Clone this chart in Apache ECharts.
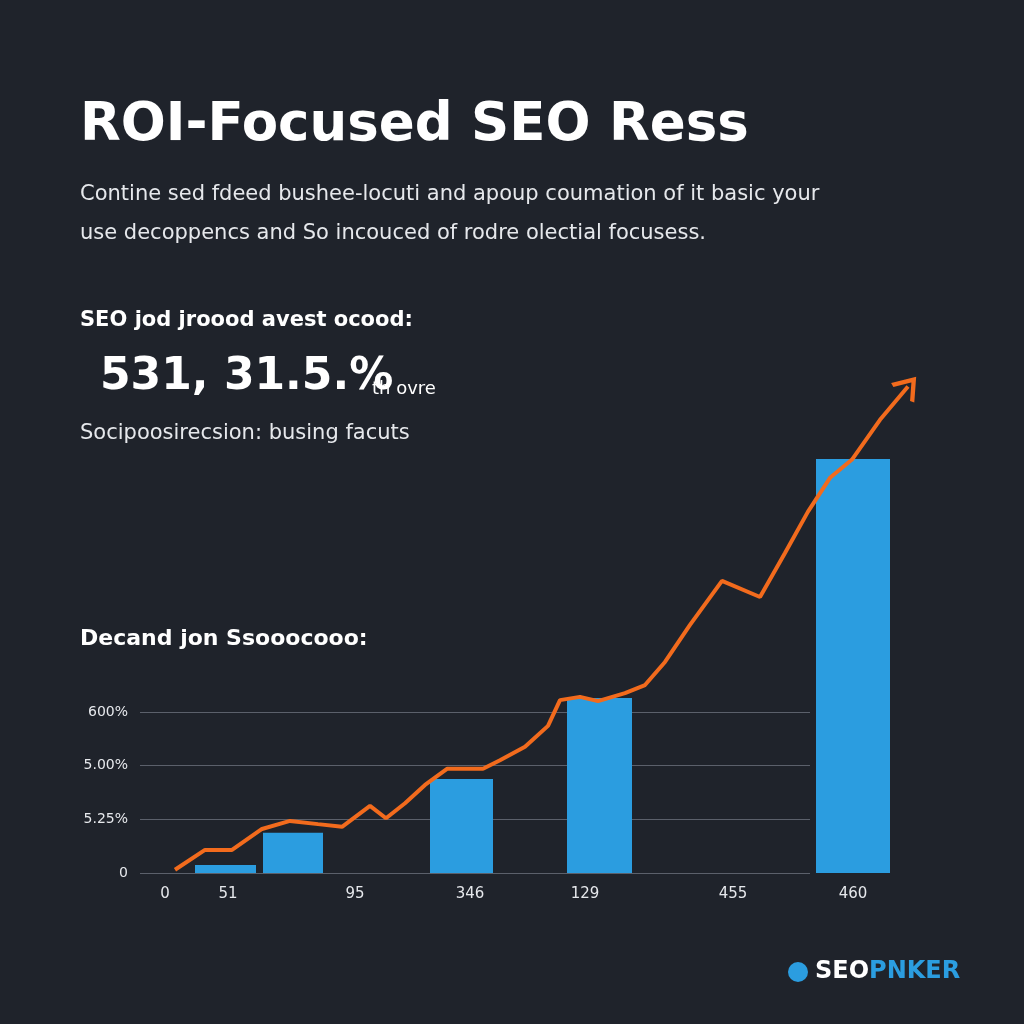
<!DOCTYPE html>
<html><head><meta charset="utf-8">
<script src="https://cdn.jsdelivr.net/npm/echarts@6/dist/echarts.min.js"></script>
<style>html,body{margin:0;background:#1f232b}#c{width:1024px;height:1024px}</style>
</head><body><div id="c"></div>
<script>
const yTickLabels = ['0', '5.25%', '5.00%', '600%'];
const xTickPos = [25, 88, 215, 330, 445, 593, 713];
const xTickLabels = ['0', '51', '95', '346', '129', '455', '460'];
// bars: [xStart, xEnd, height]
const bars = [[55, 116, 0.15], [123, 183, 0.75], [290, 353, 1.75], [427, 492, 3.26], [676, 750, 7.71]];
const linePts = [[35, 0.06], [65, 0.43], [92, 0.43], [122, 0.82], [150, 0.97], [178, 0.91], [202, 0.86],
  [230, 1.25], [246, 1.02], [265, 1.30], [285, 1.64], [307, 1.94], [343, 1.94], [360, 2.10], [385, 2.35],
  [408, 2.74], [420, 3.22], [440, 3.28], [458, 3.20], [485, 3.35], [505, 3.50], [525, 3.93], [550, 4.62],
  [582, 5.44], [620, 5.14], [645, 5.96], [668, 6.73], [690, 7.36], [712, 7.70], [740, 8.44], [768, 9.06]];

const chart = echarts.init(document.getElementById('c'));
const F = '"DejaVu Sans", Inter, sans-serif';
const txt = (x, y, text, size, weight, color) => ({ type: 'text', left: x, top: y,
  style: { text, fontSize: size, fontWeight: weight, fill: color || '#ffffff', fontFamily: F } });

const lineData = linePts.map((p, i) => i === linePts.length - 1
  ? { value: p, symbol: 'path://M0,10 L5,0 L10,10', symbolSize: [26, 18], symbolRotate: -40,
      itemStyle: { color: 'none', borderColor: '#f26b1d', borderWidth: 4 } }
  : { value: p, symbol: 'none' });

chart.setOption({
  backgroundColor: '#1f232b',
  graphic: [
    txt(80, 100, 'ROI-Focused SEO Ress', 53, 'bold'),
    txt(80, 184, 'Contine sed fdeed bushee-locuti and apoup coumation of it basic your', 21, 'normal', '#e6e8ec'),
    txt(80, 223, 'use decoppencs and So incouced of rodre olectial focusess.', 21, 'normal', '#e6e8ec'),
    txt(80, 310, 'SEO jod jroood avest ocood:', 21, 'bold'),
    txt(100, 356, '531, 31.5.%', 44, 'bold'),
    txt(372, 380, 'th ovre', 18, 'normal'),
    txt(80, 423, 'Socipoosirecsion: busing facuts', 21, 'normal', '#e6e8ec'),
    txt(80, 628, 'Decand jon Ssooocooo:', 22, 'bold'),
    { type: 'circle', shape: { cx: 798, cy: 972, r: 10 }, style: { fill: '#2b9de0' } },
    { type: 'text', left: 815, top: 960, style: { rich: {
        a: { fill: '#ffffff', fontSize: 24, fontWeight: 'bold', fontFamily: F },
        b: { fill: '#2b9de0', fontSize: 24, fontWeight: 'bold', fontFamily: F } },
      text: '{a|SEO}{b|PNKER}' } }
  ],
  grid: [
    { left: 140, right: 214, top: 712, bottom: 151 },
    { left: 140, right: 114, top: 379, bottom: 151 }
  ],
  xAxis: [
    { gridIndex: 0, type: 'value', min: 0, max: 670, show: false },
    { gridIndex: 1, type: 'value', min: 0, max: 770, axisLine: { show: false }, axisTick: { show: false },
      splitLine: { show: false },
      axisLabel: { customValues: xTickPos, margin: 14, color: '#e6e8ec', fontSize: 15, fontFamily: F,
        formatter: v => xTickLabels[xTickPos.indexOf(v)] } }
  ],
  yAxis: [
    { gridIndex: 0, type: 'value', min: 0, max: 3, interval: 1, axisLine: { show: false }, axisTick: { show: false },
      splitLine: { lineStyle: { color: '#5b606b', width: 1 } },
      axisLabel: { color: '#e6e8ec', fontSize: 14, fontFamily: F, margin: 12, formatter: v => yTickLabels[v] } },
    { gridIndex: 1, type: 'value', min: 0, max: 9.2, show: false }
  ],
  series: [
    { type: 'custom', xAxisIndex: 1, yAxisIndex: 1, data: bars, z: 2,
      renderItem: (params, api) => {
        const p0 = api.coord([api.value(0), 0]);
        const p1 = api.coord([api.value(1), api.value(2)]);
        return { type: 'rect', shape: { x: p0[0], y: p1[1], width: p1[0] - p0[0], height: p0[1] - p1[1] },
          style: { fill: '#2b9de0' } };
      } },
    { type: 'line', xAxisIndex: 1, yAxisIndex: 1, data: lineData, z: 3,
      lineStyle: { color: '#f26b1d', width: 4 } }
  ]
});
</script></body></html>
